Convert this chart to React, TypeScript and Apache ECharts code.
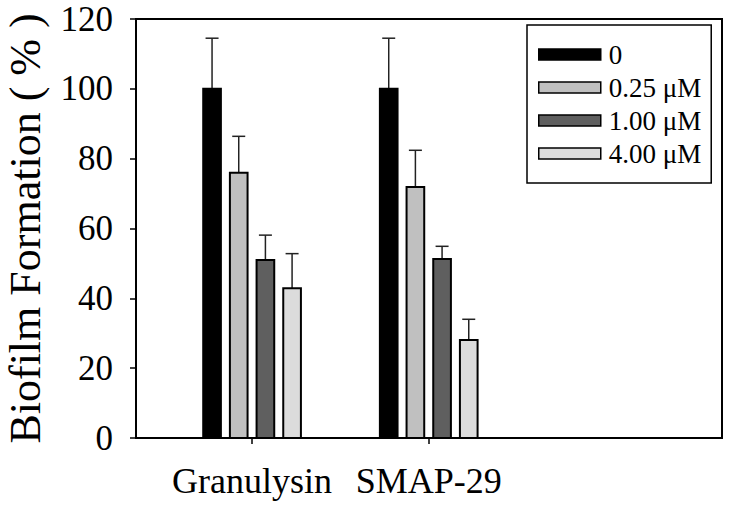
import React, { useEffect, useRef } from "react";
import * as echarts from "echarts";

const categories = ["Granulysin", "SMAP-29"];
const seriesNames = ["0", "0.25 μM", "1.00 μM", "4.00 μM"];
const seriesColors = ["#000000", "#c0c0c0", "#5f5f5f", "#dcdcdc"];
const meanValues = [
  [100, 100],
  [76, 71.9],
  [51, 51.3],
  [42.9, 28.1],
];
const sdValues = [
  [14.5, 14.5],
  [10.4, 10.5],
  [7.1, 3.6],
  [9.9, 5.9],
];
const yTicks = [0, 20, 40, 60, 80, 100, 120];

const FONT = "'Liberation Serif', 'Times New Roman', serif";

export default function App() {
  const ref = useRef<HTMLDivElement>(null);
  useEffect(() => {
    if (!ref.current) return;
    const chart = echarts.init(ref.current, undefined, { renderer: "svg" });
    const nGroups = seriesNames.length;
    const series = seriesNames.map((name, si) => ({
      type: "custom",
      name,
      itemStyle: { color: seriesColors[si], borderColor: "#000", borderWidth: 2 },
      data: categories.map((_, ci) => [ci + 1, meanValues[si][ci], sdValues[si][ci]]),
      renderItem: (params: any, api: any) => {
        const x = api.value(0);
        const y = api.value(1);
        const sd = api.value(2);
        const unit = api.size([1, 0])[0];
        const pitch = unit * 0.151;
        const bw = unit * 0.1;
        const off = (si - (nGroups - 1) / 2) * pitch;
        const top = api.coord([x, y]);
        const base = api.coord([x, 0]);
        const errTop = api.coord([x, y + sd]);
        const cx = top[0] + off;
        const cap = 13;
        return {
          type: "group",
          children: [
            {
              type: "line",
              shape: { x1: cx, y1: top[1], x2: cx, y2: errTop[1] },
              style: { stroke: "#222", lineWidth: 1.5 },
            },
            {
              type: "line",
              shape: { x1: cx - cap / 2, y1: errTop[1], x2: cx + cap / 2, y2: errTop[1] },
              style: { stroke: "#222", lineWidth: 1.5 },
            },
            {
              type: "rect",
              shape: { x: cx - bw / 2, y: top[1], width: bw, height: base[1] - top[1] },
              style: { fill: seriesColors[si], stroke: "#000", lineWidth: 2 },
            },
          ],
        };
      },
    }));

    chart.setOption({
      animation: false,
      backgroundColor: "#fff",
      grid: {
        left: 136,
        right: 11,
        top: 19,
        bottom: 68,
        containLabel: false,
        outerBoundsMode: "none",
        show: true,
        borderColor: "#000",
        borderWidth: 2,
        backgroundColor: "transparent",
      },
      legend: {
        orient: "vertical",
        left: 527,
        top: 25,
        padding: [16, 10, 16, 11],
        borderColor: "#000",
        borderWidth: 1.5,
        backgroundColor: "#fff",
        itemWidth: 62,
        itemHeight: 11,
        itemGap: 6,
        icon: "rect",
        textStyle: { fontSize: 27, fontFamily: FONT, color: "#000", padding: [0, 0, 0, 3] },
        data: seriesNames.map((n, i) => ({
          name: n,
          itemStyle: { color: seriesColors[i], borderColor: "#000", borderWidth: 1.5 },
        })),
      },
      xAxis: {
        type: "value",
        min: 0.343,
        max: 3.66,
        splitLine: { show: false },
        axisLine: { show: true, lineStyle: { color: "#000", width: 2 } },
        axisTick: {
          show: true,
          length: 6,
          lineStyle: { color: "#000", width: 1.5 },
          customValues: [1, 2],
        },
        axisLabel: {
          customValues: [1, 2],
          formatter: (v: number) => categories[Math.round(v) - 1] ?? "",
          fontSize: 36,
          fontFamily: FONT,
          color: "#000",
          margin: 25,
        },
      },
      yAxis: {
        type: "value",
        min: 0,
        max: 120,
        interval: 20,
        name: "Biofilm Formation ( % )",
        nameLocation: "middle",
        nameGap: 89,
        nameTextStyle: { fontSize: 44, fontFamily: FONT, color: "#000" },
        splitLine: { show: false },
        axisLine: { show: true, lineStyle: { color: "#000", width: 2 } },
        axisTick: { show: true, length: 6, lineStyle: { color: "#000", width: 1.5 } },
        axisLabel: {
          fontSize: 35,
          fontFamily: FONT,
          color: "#000",
          margin: 23,
          formatter: (v: number) => (yTicks.includes(v) ? String(v) : ""),
        },
      },
      series,
    });
    return () => chart.dispose();
  }, []);
  return (
    <div
      ref={ref}
      style={{ position: "fixed", left: 0, top: 0, width: 733, height: 506, background: "#fff" }}
    />
  );
}
